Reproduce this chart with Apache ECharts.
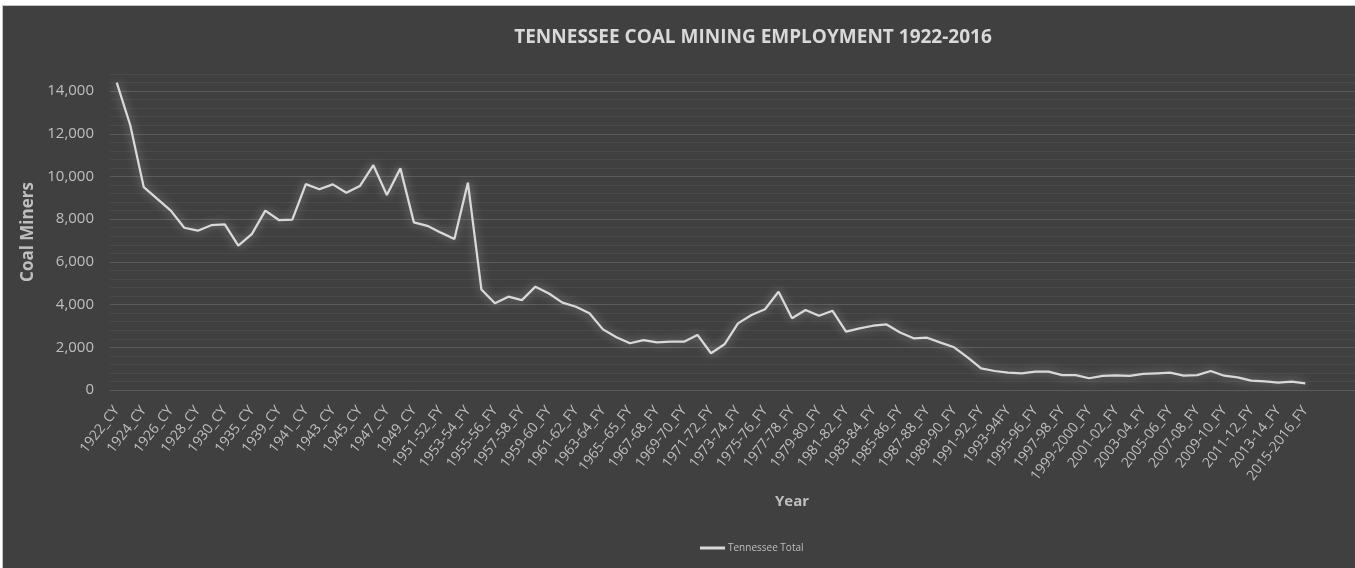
<!DOCTYPE html>
<html>
<head>
<meta charset="utf-8">
<script src="https://cdn.jsdelivr.net/npm/echarts@6/dist/echarts.min.js"></script>
<style>
  html, body { margin: 0; padding: 0; background: #fff; width: 1355px; height: 568px; overflow: hidden; }
  #main {
    position: absolute; left: 2px; top: 5px; width: 1353px; height: 563px;
    box-sizing: border-box; border-left: 1px solid #c4c4c4; border-top: 1px solid #c4c4c4;
  }
</style>
</head>
<body>
<div id="main"></div>
<script>
// year labels as printed in the source sheet (typos kept)
const years = [
  '1922_CY', '1923_CY', '1924_CY', '1925_CY', '1926_CY', '1927_CY', '1928_CY', '1929_CY', '1930_CY', '1933_CY',
  '1935_CY', '1937_CY', '1939_CY', '1940_CY', '1941_CY', '1942_CY', '1943_CY', '1944_CY', '1945_CY', '1946_CY',
  '1947_CY', '1948_CY', '1949_CY', '1950_CY', '1951-52_FY', '1952-53_FY', '1953-54_FY', '1954-55_FY', '1955-56_FY', '1956-57_FY',
  '1957-58_FY', '1958-59_FY', '1959-60_FY', '1960-61_FY', '1961-62_FY', '1962-63_FY', '1963-64_FY', '1964-65_FY', '1965--65_FY', '1966-67_FY',
  '1967-68_FY', '1968-69_FY', '1969-70_FY', '1970-71_FY', '1971-72_FY', '1972-73_FY', '1973-74_FY', '1974-75_FY', '1975-76_FY', '1976-77_FY',
  '1977-78_FY', '1978-79_FY', '1979-80_FY', '1980-81_FY', '1981-82_FY', '1982-83_FY', '1983-84_FY', '1984-85_FY', '1985-86_FY', '1986-87_FY',
  '1987-88_FY', '1988-89_FY', '1989-90_FY', '1990-91_FY', '1991-92_FY', '1992-93_FY', '1993-94FY', '1994-95_FY', '1995-96_FY', '1996-97_FY',
  '1997-98_FY', '1998-99_FY', '1999-2000_FY', '2000-01_FY', '2001-02_FY', '2002-03_FY', '2003-04_FY', '2004-05_FY', '2005-06_FY', '2006-07_FY',
  '2007-08_FY', '2008-09_FY', '2009-10_FY', '2010-11_FY', '2011-12_FY', '2012-13_FY', '2013-14_FY', '2014-15_FY', '2015-2016_FY'
]

const tennesseeTotal = [
  14400, 12400, 9500, 8950, 8400, 7600, 7460, 7720, 7760, 6760,
  7300, 8400, 7960, 7980, 9640, 9400, 9630, 9240, 9550, 10530,
  9130, 10380, 7850, 7690, 7370, 7070, 9710, 4710, 4060, 4370,
  4210, 4840, 4520, 4090, 3900, 3590, 2840, 2470, 2190, 2340,
  2230, 2260, 2260, 2580, 1720, 2140, 3120, 3510, 3780, 4600,
  3360, 3750, 3480, 3710, 2730, 2890, 3010, 3070, 2690, 2420,
  2450, 2220, 2000, 1530, 1010, 890, 810, 780, 860, 860,
  700, 700, 550, 660, 690, 660, 750, 780, 810, 670,
  700, 890, 670, 590, 440, 400, 340, 390, 310
]

const textColor = '#bfbfbf'
const majorLine = '#5c5c5c'
const minorLine = '#4a4a4a'

// every 5th gridline (every 2,000) is a major one
const splitColors = [majorLine, minorLine, minorLine, minorLine, minorLine]

const yAxisBase = {
  type: 'value',
  min: 0,
  max: 14800,
  interval: 400,
  axisLine: { show: false },
  axisTick: { show: false },
  splitLine: { lineStyle: { color: splitColors, width: 1 } }
}

const chart = echarts.init(document.getElementById('main'))

chart.setOption({
  backgroundColor: '#404040',
  animation: false,
  textStyle: { fontFamily: "'Open Sans', sans-serif" },
  title: {
    text: 'TENNESSEE COAL MINING EMPLOYMENT 1922-2016',
    left: 745,
    top: 17,
    textAlign: 'center',
    textStyle: {
      color: '#d9d9d9',
      fontFamily: "'Open Sans', sans-serif",
      fontWeight: 'bold',
      fontSize: 19
    }
  },
  grid: [
    { left: 107, right: 43, top: 68, bottom: 178 },
    { left: 1309, right: 0, top: 68, bottom: 178 }
  ],
  xAxis: [
    {
      type: 'category',
      data: years,
      boundaryGap: true,
      name: 'Year',
      nameLocation: 'middle',
      nameGap: 104,
      nameTextStyle: { color: textColor, fontSize: 15, fontWeight: 'bold', padding: [0, 0, 0, 162] },
      axisLine: { show: false },
      axisTick: { show: false },
      axisLabel: { interval: 1, rotate: 52, color: textColor, fontSize: 14, margin: 18 }
    },
    { type: 'value', gridIndex: 1, min: 0, max: 1, show: false }
  ],
  yAxis: [
    {
      ...yAxisBase,
      name: 'Coal Miners',
      nameLocation: 'middle',
      nameGap: 68,
      nameTextStyle: { color: textColor, fontSize: 17, fontWeight: 'bold' },
      axisLabel: {
        color: textColor,
        fontSize: 15,
        margin: 16,
        formatter: v => (v % 2000 === 0 && v <= 14000 ? v.toLocaleString('en-US') : '')
      }
    },
    { ...yAxisBase, gridIndex: 1, axisLabel: { show: false } }
  ],
  legend: {
    left: 692,
    top: 532,
    icon: 'rect',
    itemWidth: 25,
    itemHeight: 3,
    itemGap: 4,
    textStyle: { color: textColor, fontSize: 10, padding: [0, 0, 0, -2] },
    data: ['Tennessee Total']
  },
  series: [
    {
      name: 'Tennessee Total',
      type: 'line',
      data: tennesseeTotal,
      symbol: 'none',
      color: '#d9d9d9',
      lineStyle: {
        color: '#d9d9d9',
        width: 2.25,
        shadowBlur: 10,
        shadowColor: 'rgba(255, 255, 255, 0.45)'
      }
    }
  ]
})
</script>
</body>
</html>
